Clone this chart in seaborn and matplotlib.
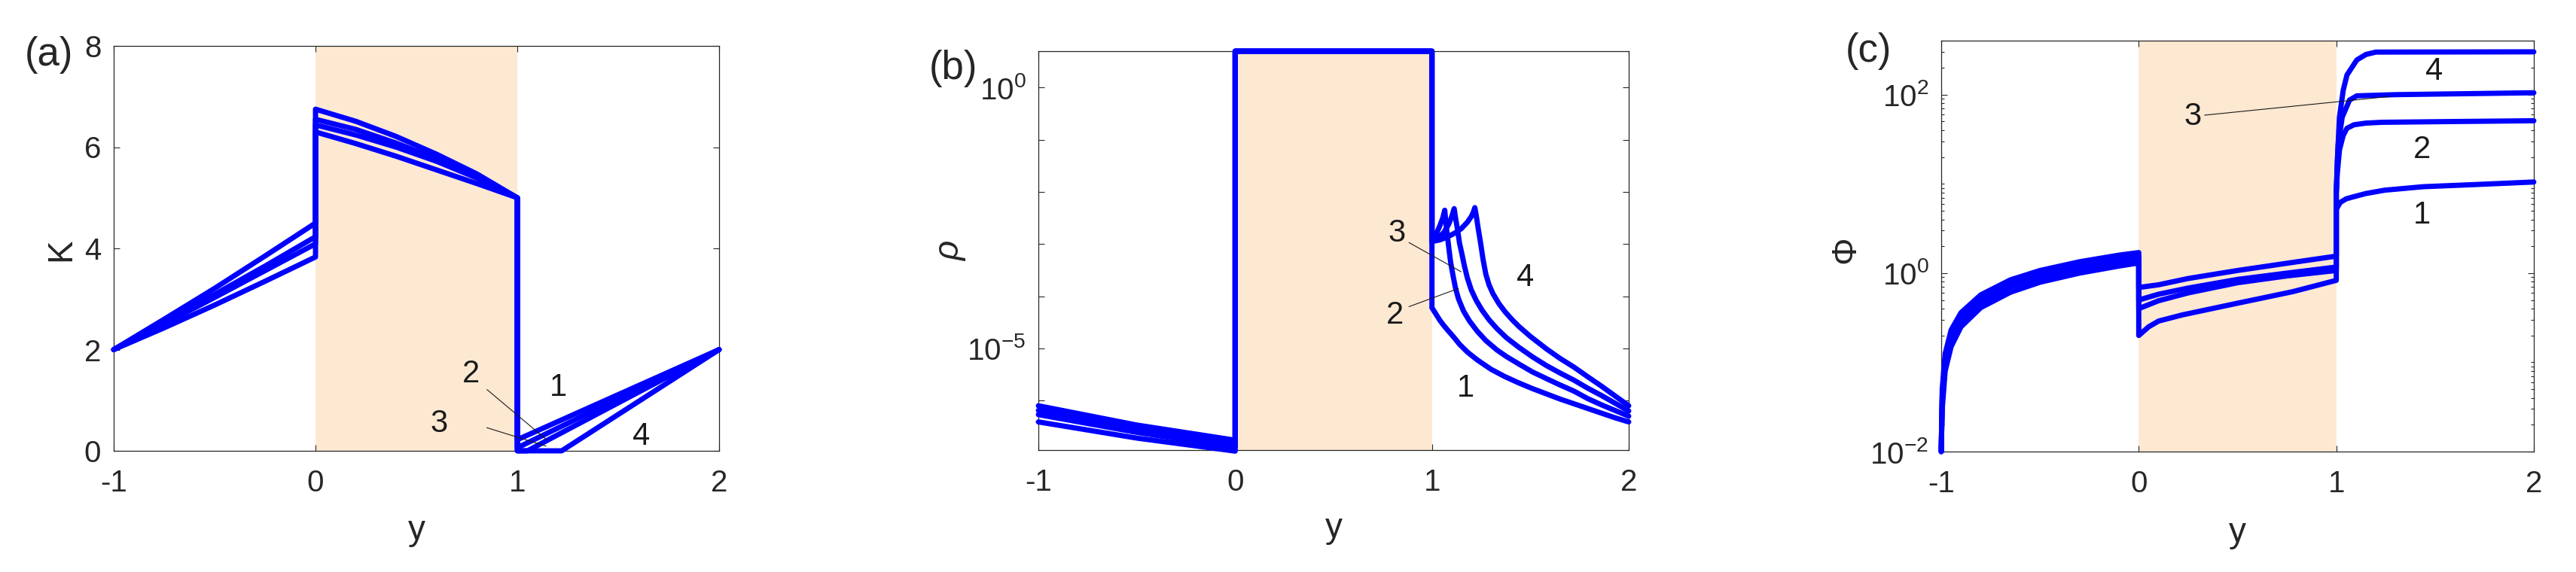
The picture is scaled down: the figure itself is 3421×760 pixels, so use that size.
import numpy as np
import pandas as pd
import matplotlib

matplotlib.use("Agg")
import matplotlib.pyplot as plt
from matplotlib.ticker import LogLocator, NullFormatter, NullLocator
import seaborn as sns

# ---------------- panel (a): K ----------------
a_y1 = [-1, -0.75, -0.5, -0.25, 0, 0, 0.2, 0.4, 0.6, 0.8, 1, 1, 2]
a_k1 = [2.0, 2.43, 2.88, 3.35, 3.83, 6.30, 6.07, 5.82, 5.55, 5.28, 5.0, 0.22, 2.0]
a_y2 = [-1, -0.75, -0.5, -0.25, 0, 0, 0.2, 0.4, 0.6, 0.8, 1, 1, 2]
a_k2 = [2.0, 2.51, 3.03, 3.56, 4.09, 6.44, 6.24, 6.0, 5.72, 5.39, 5.0, 0.06, 2.0]
a_y3 = [-1, -0.75, -0.5, -0.25, 0, 0, 0.2, 0.4, 0.6, 0.8, 1, 1, 1.05, 2]
a_k3 = [2.0, 2.54, 3.09, 3.65, 4.23, 6.55, 6.35, 6.08, 5.77, 5.42, 5.0, 0.0, 0.0, 2.0]
a_y4 = [-1, -0.75, -0.5, -0.25, 0, 0, 0.2, 0.4, 0.6, 0.8, 1, 1, 1.22, 2]
a_k4 = [2.0, 2.6, 3.21, 3.85, 4.5, 6.75, 6.51, 6.21, 5.86, 5.47, 5.0, 0.0, 0.0, 2.0]

# ---------------- panel (b): rho, read as log10 exponents ----------------
b_y1 = [-1, -0.5, 0, 0, 1, 1, 1.01, 1.02, 1.04, 1.06, 1.08, 1.11, 1.14, 1.18,
        1.23, 1.3, 1.37, 1.44, 1.51, 1.58, 1.65, 1.72, 1.79, 1.86, 1.93, 2]
b_e1 = [-6.41, -6.72, -6.97, 0.7, 0.7, -4.22, -4.28, -4.34, -4.46, -4.56,
        -4.65, -4.78, -4.92, -5.07, -5.22, -5.40, -5.54, -5.66, -5.77, -5.87,
        -5.97, -6.06, -6.15, -6.24, -6.33, -6.41]
b_y2 = [-1, -0.5, 0, 0, 1, 1, 1.02, 1.04, 1.055, 1.065, 1.07, 1.077, 1.085,
        1.095, 1.107, 1.12, 1.135, 1.16, 1.19, 1.23, 1.274, 1.33, 1.38, 1.442,
        1.51, 1.582, 1.65, 1.722, 1.79, 1.86, 1.93, 2]
b_e2 = [-6.27, -6.61, -6.90, 0.7, 0.7, -2.95, -2.82, -2.65, -2.5, -2.35,
        -2.55, -2.8, -3.05, -3.35, -3.6, -3.85, -4.05, -4.28, -4.47, -4.67,
        -4.85, -5.03, -5.16, -5.3, -5.45, -5.58, -5.70, -5.82, -5.96, -6.08,
        -6.19, -6.30]
b_y3 = [-1, -0.5, 0, 0, 1, 1, 1.03, 1.06, 1.085, 1.1, 1.113, 1.12, 1.13, 1.14,
        1.153, 1.165, 1.18, 1.2, 1.225, 1.255, 1.29, 1.33, 1.38, 1.442, 1.51,
        1.582, 1.65, 1.722, 1.79, 1.86, 1.93, 2]
b_e3 = [-6.19, -6.54, -6.83, 0.7, 0.7, -2.95, -2.88, -2.78, -2.62, -2.48,
        -2.32, -2.5, -2.72, -2.98, -3.2, -3.42, -3.65, -3.88, -4.08, -4.27,
        -4.45, -4.62, -4.80, -4.98, -5.16, -5.33, -5.47, -5.61, -5.76, -5.90,
        -6.05, -6.20]
b_y4 = [-1, -0.5, 0, 0, 1, 1, 1.04, 1.08, 1.12, 1.15, 1.18, 1.2, 1.21, 1.218,
        1.225, 1.235, 1.246, 1.26, 1.274, 1.29, 1.31, 1.34, 1.372, 1.41, 1.442,
        1.5, 1.582, 1.65, 1.722, 1.79, 1.86, 1.93, 2]
b_e4 = [-6.10, -6.47, -6.76, 0.7, 0.7, -2.95, -2.92, -2.86, -2.78, -2.70,
        -2.58, -2.47, -2.39, -2.30, -2.45, -2.7, -2.95, -3.3, -3.58, -3.78,
        -3.95, -4.14, -4.30, -4.46, -4.58, -4.77, -5.01, -5.19, -5.36, -5.54,
        -5.72, -5.91, -6.10]

# ---------------- panel (c): Phi ----------------
c_left_y = [-1, -0.995, -0.98, -0.95, -0.9, -0.8, -0.65, -0.5, -0.3, -0.1, 0]
c_y1 = c_left_y + [0, 0.05, 0.1, 0.22, 0.5, 0.78, 1,
                   1, 1.02, 1.05, 1.08, 1.15, 1.245, 1.44, 1.69, 2]
c_p1 = [0.01, 0.03, 0.08, 0.15, 0.25, 0.41, 0.61, 0.79, 1.00, 1.20, 1.30,
        0.20, 0.25, 0.29, 0.34, 0.46, 0.62, 0.83,
        5.2, 6.2, 6.8, 7.1, 7.8, 8.5, 9.3, 9.8, 10.5]
c_y2 = c_left_y + [0, 0.1, 0.25, 0.5, 0.75, 1,
                   1, 1.005, 1.016, 1.035, 1.054, 1.09, 1.15, 1.23, 1.6, 2]
c_p2 = [0.01, 0.036, 0.094, 0.18, 0.29, 0.47, 0.70, 0.89, 1.13, 1.35, 1.45,
        0.40, 0.49, 0.60, 0.78, 0.93, 1.07,
        8, 13, 24, 35, 42, 46, 48, 49, 50, 51]
c_y3 = c_left_y + [0, 0.1, 0.25, 0.5, 0.75, 1,
                   1, 1.005, 1.01, 1.03, 1.067, 1.104, 1.3, 2]
c_p3 = [0.01, 0.04, 0.105, 0.20, 0.32, 0.51, 0.76, 0.97, 1.21, 1.45, 1.55,
        0.50, 0.58, 0.68, 0.85, 1.0, 1.17,
        8, 16, 28, 56, 87, 97, 100, 105]
c_y4 = c_left_y + [0, 0.1, 0.25, 0.5, 0.75, 1,
                   1, 1.005, 1.016, 1.035, 1.054, 1.104, 1.15, 1.2, 2]
c_p4 = [0.01, 0.05, 0.125, 0.23, 0.36, 0.57, 0.84, 1.07, 1.34, 1.59, 1.70,
        0.69, 0.74, 0.87, 1.07, 1.29, 1.55,
        8, 18, 56, 112, 166, 245, 282, 300, 302]

x_ticks = [-1, 0, 1, 2]
k_ticks = [0, 2, 4, 6, 8]

TXT = "#262626"
BLUE = "#0000ff"
SHADE = "#fde8d2"

sns.set_theme(style="ticks")
plt.rcParams["font.family"] = ["Liberation Sans", "DejaVu Sans"]
plt.rcParams["mathtext.fontset"] = "custom"
plt.rcParams["mathtext.rm"] = "Liberation Sans"
plt.rcParams["mathtext.it"] = "Liberation Sans:italic"
plt.rcParams["axes.unicode_minus"] = False


def long_frame(pairs):
    """Stack (y, value) curves into one long table"""
    parts = []
    for i, (ys, vs) in enumerate(pairs, start=1):
        parts.append(pd.DataFrame({"y": ys, "val": vs, "curve": i}))
    return pd.concat(parts, ignore_index=True)


def style_axes(ax):
    ax.axvspan(0, 1, color=SHADE, lw=0, zorder=0)
    ax.set_xlim(-1, 2)
    ax.set_xticks(x_ticks)
    ax.tick_params(which="both", direction="in", top=True, right=True,
                   colors=TXT, labelcolor=TXT, labelsize=29, width=0.8)
    ax.tick_params(which="major", length=6)
    ax.tick_params(which="minor", length=3)
    ax.tick_params(axis="x", pad=17)
    ax.tick_params(axis="y", pad=12)
    for sp in ax.spines.values():
        sp.set_visible(True)
        sp.set_color(TXT)
        sp.set_linewidth(0.9)
    ax.set_xlabel("y", fontsize=33, color=TXT, va="center")
    ax.xaxis.set_label_coords(0.5, -0.197)


def draw(ax, df):
    sns.lineplot(data=df, x="y", y="val", units="curve", estimator=None,
                 sort=False, color=BLUE, lw=5, ax=ax, legend=False,
                 clip_on=False, zorder=3)


fig = plt.figure(figsize=(34.21, 7.6), dpi=100)
ax_a = fig.add_axes([151 / 3421, 1 - 599 / 760, 804 / 3421, 538 / 760])
ax_b = fig.add_axes([1379 / 3421, 1 - 598 / 760, 784 / 3421, 530 / 760])
ax_c = fig.add_axes([2578 / 3421, 1 - 600 / 760, 787 / 3421, 546 / 760])

# (a)
df_a = long_frame([(a_y1, a_k1), (a_y2, a_k2), (a_y3, a_k3), (a_y4, a_k4)])
draw(ax_a, df_a)
style_axes(ax_a)
ax_a.set_ylim(0, 8)
ax_a.set_yticks(k_ticks)
ax_a.set_ylabel("K", fontsize=33, color=TXT, va="center")
ax_a.yaxis.set_label_coords(-0.087, 0.496)
for txt, (x, y) in {"2": (0.769, 1.52), "1": (1.204, 1.25),
                    "3": (0.613, 0.53), "4": (1.614, 0.28)}.items():
    ax_a.text(x, y, txt, fontsize=30, color="#1a1a1a", ha="center", va="center")
ax_a.plot([0.85, 1.148], [1.21, 0.21], color="k", lw=0.8, zorder=4)
ax_a.plot([0.849, 1.142], [0.457, 0.094], color="k", lw=0.8, zorder=4)

# (b)
df_b = long_frame([(b_y1, 10.0 ** np.array(b_e1)), (b_y2, 10.0 ** np.array(b_e2)),
                   (b_y3, 10.0 ** np.array(b_e3)), (b_y4, 10.0 ** np.array(b_e4))])
ax_b.set_yscale("log")
draw(ax_b, df_b)
style_axes(ax_b)
ax_b.set_ylim(10 ** -6.95, 10 ** 0.7)
ax_b.set_yticks([1e-6, 1e-5, 1e-4, 1e-3, 1e-2, 1e-1, 1e0],
                labels=["", r"$10^{-5}$", "", "", "", "", r"$10^{0}$"])
ax_b.yaxis.set_minor_locator(NullLocator())
ax_b.set_ylabel("ρ", fontsize=33, color=TXT, va="center", fontstyle="italic")
ax_b.yaxis.set_label_coords(-0.149, 0.498)
for txt, (x, y) in {"3": (0.821, 10 ** -2.79), "2": (0.813, 10 ** -4.37),
                    "4": (1.476, 10 ** -3.64), "1": (1.171, 10 ** -5.76)}.items():
    ax_b.text(x, y, txt, fontsize=30, color="#1a1a1a", ha="center", va="center")
ax_b.plot([0.883, 1.148], [10 ** -2.97, 10 ** -3.53], color="k", lw=0.8, zorder=4)
ax_b.plot([0.883, 1.135], [10 ** -4.20, 10 ** -3.85], color="k", lw=0.8, zorder=4)

# (c)
df_c = long_frame([(c_y1, c_p1), (c_y2, c_p2), (c_y3, c_p3), (c_y4, c_p4)])
ax_c.set_yscale("log")
draw(ax_c, df_c)
style_axes(ax_c)
ax_c.set_ylim(0.01, 403)
ax_c.set_yticks([1e-2, 1e0, 1e2], labels=[r"$10^{-2}$", r"$10^{0}$", r"$10^{2}$"])
ax_c.yaxis.set_minor_locator(LogLocator(base=10, subs=np.arange(1, 10), numticks=30))
ax_c.yaxis.set_minor_formatter(NullFormatter())
ax_c.set_ylabel("Φ", fontsize=33, color=TXT, va="center")
ax_c.yaxis.set_label_coords(-0.161, 0.491)
for txt, (x, y) in {"4": (1.496, 182), "2": (1.435, 24.3),
                    "1": (1.435, 4.43), "3": (0.272, 56.6)}.items():
    ax_c.text(x, y, txt, fontsize=30, color="#1a1a1a", ha="center", va="center")
ax_c.plot([0.333, 1.272], [10 ** 1.77, 10 ** 1.98], color="k", lw=0.8, zorder=4)

# panel tags
for tag, (px, py) in {"(a)": (65, 73), "(b)": (1266, 91), "(c)": (2481, 68)}.items():
    fig.text(px / 3421, 1 - py / 760, tag, fontsize=38, color=TXT,
             ha="center", va="center")

fig.savefig("out.png", dpi=100)
plt.close(fig)
